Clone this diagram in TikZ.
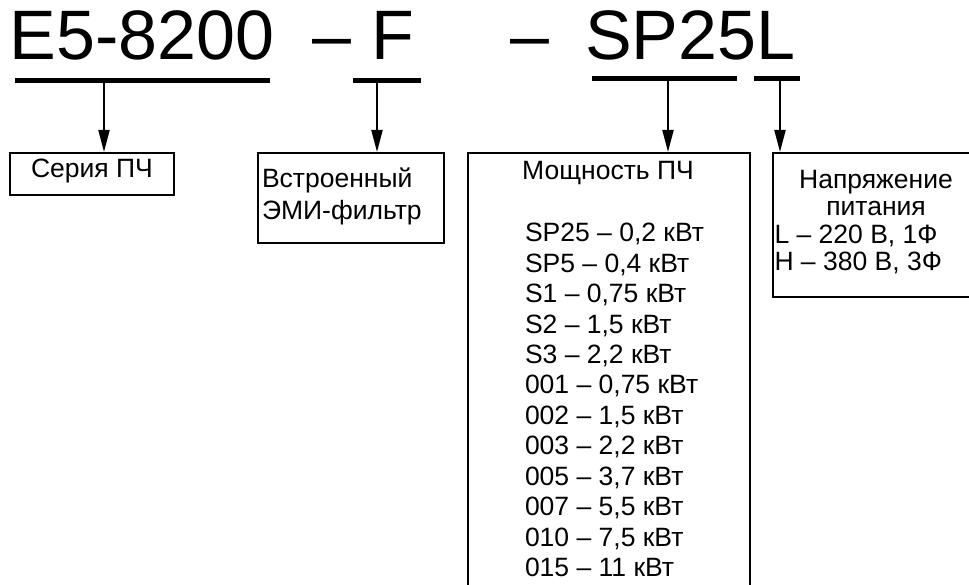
\documentclass[tikz,border=0pt]{standalone}
\usepackage{fontspec}
\setmainfont{Liberation Sans}
\usetikzlibrary{arrows.meta}
\begin{document}
\begin{tikzpicture}[x=1pt,y=-1pt,
  title/.style={font=\fontsize{70}{80}\selectfont, inner sep=0pt, outer sep=0pt, anchor=base west},
  txt/.style={font=\fontsize{26.5}{30.45}\selectfont, inner sep=0pt, outer sep=0pt, anchor=base west, align=left},
  bar/.style={fill=black, inner sep=0pt, outer sep=0pt, minimum height=5pt, anchor=west},
  box/.style={draw, line width=2pt, inner sep=0pt, anchor=north west},
  arr/.style={line width=2pt, -{Triangle[length=22pt,width=11pt]}}]
\useasboundingbox (0,0) rectangle (969,585);
\clip (0,0) rectangle (969,585);
% title
\node[title] (t1) at (9.5,60) {E5-8200};
\node[title] (t2) at (312,60) {–};
\node[title] (t3) at (371,60) {F};
\node[title] (t4) at (510,60) {–};
\node[title] (t5) at (585,60) {SP25L};
% bars
\node[bar, minimum width=255pt] (bar1) at (15,80.5) {};
\node[bar, minimum width=68pt] (bar2) at (353,80.5) {};
\node[bar, minimum width=145pt] (bar3) at (592,79) {};
\node[bar, minimum width=46pt] (bar4) at (754,79) {};
% boxes
\node[box, minimum width=164pt, minimum height=42pt] (box1) at (9,152) {};
\node[box, minimum width=186pt, minimum height=90pt] (box2) at (257,152) {};
\node[box, minimum width=282pt, minimum height=460pt] (box3) at (467,152) {};
\node[box, minimum width=220pt, minimum height=144pt] (box4) at (772,152) {};
% arrows
\coordinate (k1) at (104,0);
\coordinate (k2) at (377,0);
\coordinate (k3) at (668,0);
\coordinate (k4) at (780,0);
\draw[arr] (bar1.south -| k1) -- (box1.north -| k1);
\draw[arr] (bar2.south -| k2) -- (box2.north -| k2);
\draw[arr] (bar3.south -| k3) -- (box3.north -| k3);
\draw[arr] (bar4.south -| k4) -- (box4.north -| k4);
% texts (multi-line nodes: base = last line)
\node[txt] (l1) at (31,177.3) {Серия ПЧ};
\node[txt, font=\fontsize{26.5}{32}\selectfont] (l2) at (262,219.3) {Встроенный\\ЭМИ-фильтр};
\node[txt, anchor=base] (l3) at (608,180) {Мощность ПЧ};
\node[txt] (l3b) at (525,576.6) {SP25 – 0,2 кВт\\SP5 – 0,4 кВт\\S1 – 0,75 кВт\\S2 – 1,5 кВт\\S3 – 2,2 кВт\\001 – 0,75 кВт\\002 – 1,5 кВт\\003 – 2,2 кВт\\005 – 3,7 кВт\\007 – 5,5 кВт\\010 – 7,5 кВт\\015 – 11 кВт};
\node[txt, anchor=base, align=center, font=\fontsize{26.5}{27}\selectfont] (l4) at (876,216) {Напряжение\\питания};
\node[txt, font=\fontsize{26.5}{27}\selectfont] (l4b) at (774.5,270.5) {L – 220 В, 1Ф\\H – 380 В, 3Ф};
\end{tikzpicture}
\end{document}
